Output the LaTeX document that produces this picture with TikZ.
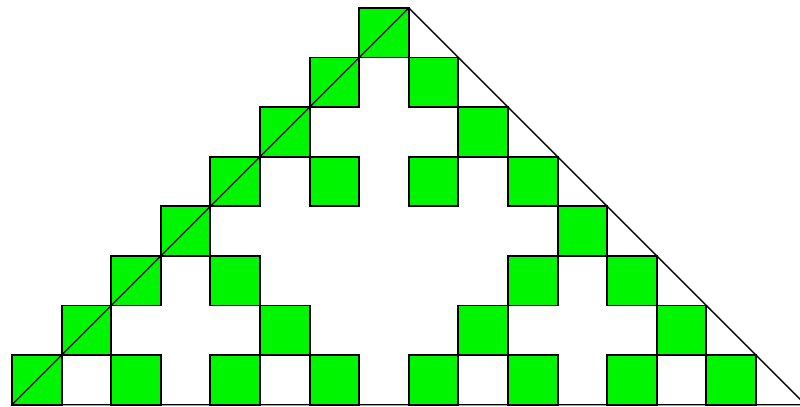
\documentclass[tikz,border=0pt]{standalone}
\usepackage{tikz}
\usetikzlibrary{positioning}
\definecolor{cellgreen}{RGB}{0,245,0}

\begin{document}
\begin{tikzpicture}[x=1cm, y=1cm,
    cell/.style={draw, fill=cellgreen, line width=1.1pt, minimum size=1cm,
                 inner sep=0pt, outer sep=0pt},
    edge/.style={line width=0.8pt, line join=miter}
  ]
    % Frame of the picture
    \useasboundingbox (-0.242,-0.04) rectangle (15.887,8.16);
    \clip (-0.242,-0.04) rectangle (15.887,8.16);
    % Odd entries, row by row from the top
    \foreach \r/\cols in {0/{7}, 1/{6,8}, 2/{5,9}, 3/{4,6,8,10},
                          4/{3,11}, 5/{2,4,10,12}, 6/{1,5,9,13},
                          7/{0,2,4,6,8,10,12,14}} {
      \foreach \c in \cols {
        \node[cell] (c-\r-\c) at (\c+0.5, 7.5-\r) {};
      }
    }
    % Triangle
    \coordinate (left) at (0,0);
    \coordinate (apex) at (8,8);
    \coordinate (right) at (16,0);
    \draw[edge] (left) -- (apex) -- (right) -- cycle;
  \end{tikzpicture}
\end{document}
